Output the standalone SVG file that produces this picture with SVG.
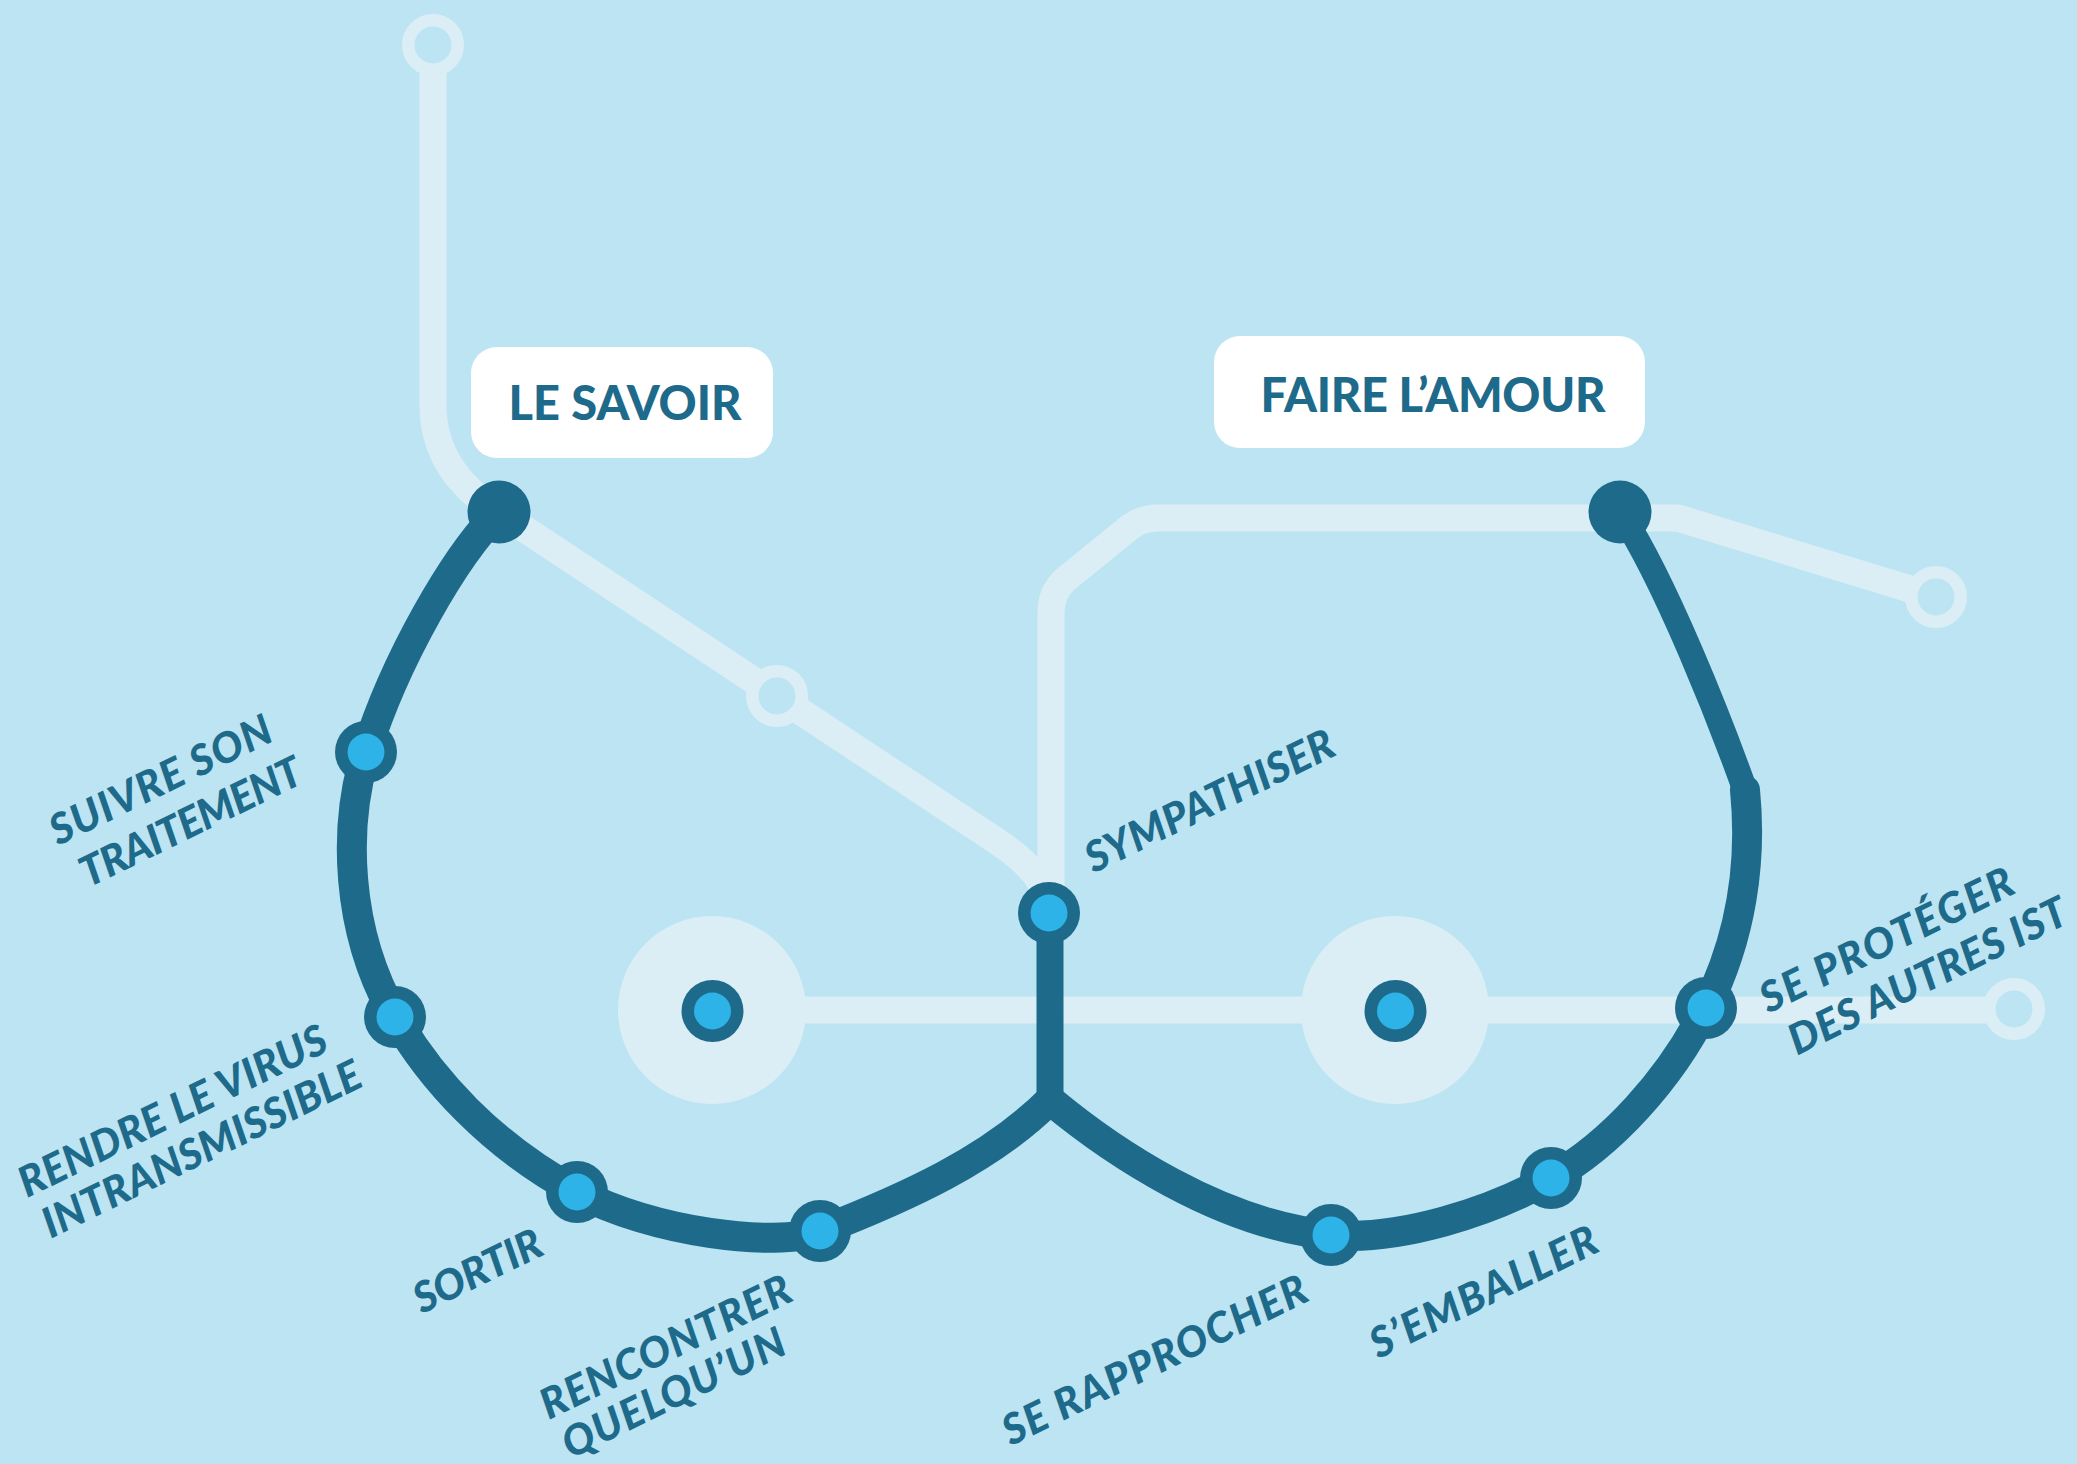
<svg xmlns="http://www.w3.org/2000/svg" width="2077" height="1464" viewBox="0 0 2077 1464">
<style>
.light{fill:none;stroke:#DCEEF5;stroke-width:27;stroke-linejoin:round}
.dark{fill:none;stroke:#1E6A8A;stroke-width:30;stroke-linecap:round}
.ring{fill:#BCE4F3;stroke:#DCEEF5;stroke-width:12.5}
.hub{fill:#DCEEF5}
.st{fill:#1E6A8A}
.core{fill:#2EB3E8}
.lbl{font-family:Lato,"Open Sans","Liberation Sans",sans-serif;font-weight:900;font-style:italic;font-size:42px;fill:#1E6A8A;text-anchor:middle}
.box{fill:#FFFFFF}
.ttl{font-family:Lato,"Open Sans","Liberation Sans",sans-serif;font-weight:900;font-size:47px;fill:#1E6A8A;text-anchor:middle}
</style>
<rect width="2077" height="1464" fill="#BCE4F3"/>
<g id="connectors">
  <path class="light" d="M433,60 V405 C433,450 455,485 499,512 L995,840 C1030,863 1049,885 1049,913"/>
  <path class="light" d="M1051,913 V612 Q1051,592 1066,579 L1130,527 Q1142,518 1158,518 H1678 L1936,597"/>
  <path class="light" d="M712,1010 H2014"/>
  <path class="dark" d="M499,512 C455,555 395,660 366,752 C343,826 345,930 395,1017 C430,1078 490,1145 577,1192 C651,1232 776,1248 820,1231 C905,1198 990,1160 1050,1100"/>
  <path class="dark" style="stroke-width:27;stroke-linecap:butt" d="M1050,913 V1102"/>
  <path class="dark" d="M1050,1100 C1110,1150 1220,1225 1331,1235 C1400,1241 1490,1212 1551,1178 C1610,1145 1670,1080 1706,1008 C1742,936 1752,860 1745,790"/>
  <path class="dark" style="stroke-width:25" d="M1745,790 C1720,720 1665,580 1620,512"/>
</g>
<g id="terminals">
  <circle class="ring" cx="433" cy="45" r="24.75"/>
  <circle class="ring" cx="777" cy="696" r="24.75"/>
  <circle class="ring" cx="1936" cy="597" r="24.75"/>
  <circle class="ring" cx="2014" cy="1009" r="24.75"/>
</g>
<g id="hub-left">
  <circle class="hub" cx="712" cy="1010" r="94"/>
  <circle class="st" cx="712.5" cy="1011" r="31"/>
  <circle class="core" cx="712.5" cy="1011" r="18.5"/>
</g>
<g id="hub-right">
  <circle class="hub" cx="1395" cy="1010" r="94"/>
  <circle class="st" cx="1395.5" cy="1011" r="31"/>
  <circle class="core" cx="1395.5" cy="1011" r="18.5"/>
</g>
<g id="le-savoir">
  <circle class="st" cx="499" cy="512" r="31.5"/>
  <rect class="box" x="471" y="347" width="302" height="111" rx="26"/>
  <text class="ttl" x="625" y="420" textLength="233">LE SAVOIR</text>
</g>
<g id="faire-l-amour">
  <circle class="st" cx="1620" cy="512" r="31.5"/>
  <rect class="box" x="1214" y="336" width="431" height="112" rx="26"/>
  <text class="ttl" x="1433" y="412" textLength="345">FAIRE L’AMOUR</text>
</g>
<g id="suivre-son-traitement">
  <circle class="st" cx="366" cy="752" r="31"/>
  <circle class="core" cx="366" cy="752" r="18.5"/>
  <text class="lbl" transform="translate(167,793) rotate(-26)" textLength="242">SUIVRE SON</text>
  <text class="lbl" transform="translate(197,835) rotate(-26)" textLength="242">TRAITEMENT</text>
</g>
<g id="rendre-le-virus-intransmissible">
  <circle class="st" cx="395" cy="1017" r="31"/>
  <circle class="core" cx="395" cy="1017" r="18.5"/>
  <text class="lbl" transform="translate(179,1124) rotate(-26)" textLength="338">RENDRE LE VIRUS</text>
  <text class="lbl" transform="translate(208,1162) rotate(-26)" textLength="350">INTRANSMISSIBLE</text>
</g>
<g id="sortir">
  <circle class="st" cx="577" cy="1192" r="31"/>
  <circle class="core" cx="577" cy="1192" r="18.5"/>
  <text class="lbl" transform="translate(484,1284) rotate(-26)" textLength="138">SORTIR</text>
</g>
<g id="rencontrer-quelqu-un">
  <circle class="st" cx="820" cy="1231" r="31"/>
  <circle class="core" cx="820" cy="1231" r="18.5"/>
  <text class="lbl" transform="translate(672,1360) rotate(-26)" textLength="274">RENCONTRER</text>
  <text class="lbl" transform="translate(680,1406) rotate(-26)" textLength="243">QUELQU’UN</text>
</g>
<g id="sympathiser">
  <circle class="st" cx="1049" cy="913" r="31"/>
  <circle class="core" cx="1049" cy="913" r="18.5"/>
  <text class="lbl" transform="translate(1216,814) rotate(-26)" textLength="272">SYMPATHISER</text>
</g>
<g id="se-rapprocher">
  <circle class="st" cx="1331" cy="1235" r="31"/>
  <circle class="core" cx="1331" cy="1235" r="18.5"/>
  <text class="lbl" transform="translate(1161,1373) rotate(-26)" textLength="334">SE RAPPROCHER</text>
</g>
<g id="s-emballer">
  <circle class="st" cx="1551" cy="1178" r="31"/>
  <circle class="core" cx="1551" cy="1178" r="18.5"/>
  <text class="lbl" transform="translate(1490,1305) rotate(-26)" textLength="248">S’EMBALLER</text>
</g>
<g id="se-proteger-des-autres-ist">
  <circle class="st" cx="1706" cy="1008" r="31"/>
  <circle class="core" cx="1706" cy="1008" r="18.5"/>
  <text class="lbl" transform="translate(1893,953) rotate(-26)" textLength="277">SE PROTÉGER</text>
  <text class="lbl" transform="translate(1934,989) rotate(-26)" textLength="305">DES AUTRES IST</text>
</g>
</svg>
